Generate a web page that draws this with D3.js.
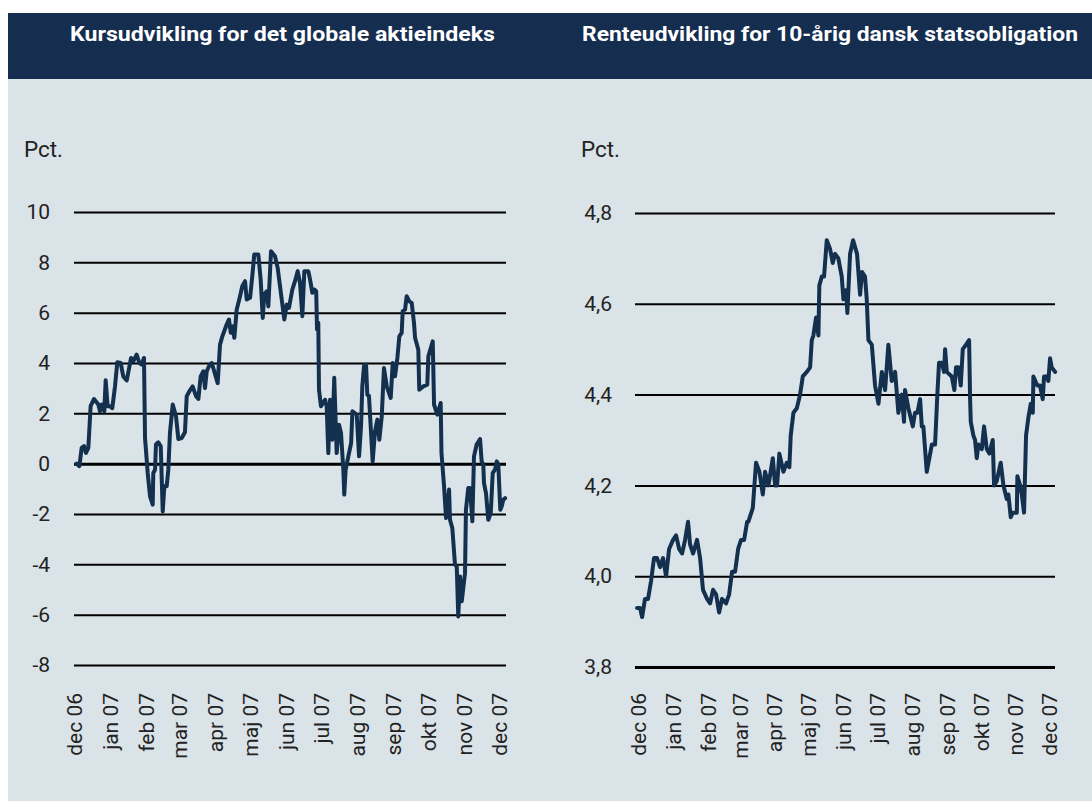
<!DOCTYPE html>
<html><head><meta charset="utf-8">
<script src="https://cdn.jsdelivr.net/npm/d3@7"></script>
<style>body{margin:0;background:#fff}svg{display:block}</style>
</head><body><svg id="c" width="1092" height="801"></svg>
<script>
// ---- data ----
const monthLabels = ["dec 06","jan 07","feb 07","mar 07","apr 07","maj 07","jun 07","jul 07","aug 07","sep 07","okt 07","nov 07","dec 07"];
const monthStarts = ["2006-12-01","2007-01-01","2007-02-01","2007-03-01","2007-04-01","2007-05-01","2007-06-01","2007-07-01","2007-08-01","2007-09-01","2007-10-01","2007-11-01","2007-12-01"];
// days since 2006-12-01
const stockDays = [2.3,4.6,6.6,8.6,10.3,12.3,14.3,17.2,20.9,22.3,23.8,26.0,27.2,28.9,30.9,32.9,35.2,37.2,40.1,42.3,45.3,49.0,50.9,53.8,56.1,58.1,60.1,61.0,63.3,65.3,67.6,68.1,69.6,70.4,72.4,74.5,76.2,77.6,79.6,81.0,82.4,84.8,87.6,89.6,92.5,95.3,96.8,99.0,101.9,104.8,106.8,108.8,111.1,112.5,114.0,116.2,118.3,123.4,125.4,127.4,131.1,133.1,134.6,135.9,137.7,139.7,142.6,144.5,146.9,148.3,151.2,153.1,154.8,158.3,160.3,162.1,163.4,165.5,166.9,169.2,172.6,174.9,178.4,180.6,182.7,184.6,187.5,189.8,192.1,194.1,196.1,197.8,201.2,202.7,204.7,206.4,208.0,208.7,209.8,210.4,212.1,215.6,217.0,218.4,219.9,221.8,223.5,225.6,227.6,229.3,231.3,232.1,233.3,235.6,238.0,239.1,242.8,244.8,246.5,247.6,249.1,250.8,251.9,253.3,256.5,258.5,260.5,262.2,264.3,266.2,268.6,272.0,273.7,275.7,277.7,279.4,281.4,282.3,284.3,285.7,288.0,290.0,292.0,292.9,295.7,296.5,300.0,303.4,304.3,308.1,309.2,312.0,314.9,315.6,317.8,319.5,320.6,322.1,322.9,324.9,327.2,328.7,330.0,331.5,333.0,335.8,336.6,338.6,340.1,342.1,343.5,345.8,348.7,350.1,351.5,352.1,353.8,355.8,357.9,359.6,361.6,363.1,364.4,366.1,367.3,368.7,370.2];
const stockValues = [0.0,-0.1,0.63,0.7,0.43,0.63,2.3,2.57,2.35,2.08,2.35,2.08,3.31,2.28,2.28,2.21,3.07,4.03,4.0,3.47,3.31,4.2,4.07,4.33,4.0,3.94,4.2,1.02,-0.37,-1.3,-1.63,-0.37,-0.24,0.76,0.85,0.69,-1.9,-0.9,-0.9,-0.24,1.22,2.35,1.88,0.98,1.02,1.25,2.68,2.87,3.07,2.68,2.57,3.47,3.67,3.0,3.67,3.9,4.0,3.2,4.73,5.06,5.53,5.73,5.2,5.46,5.0,6.12,6.65,7.05,7.25,6.52,6.59,7.45,8.31,8.31,7.32,5.79,6.72,6.85,6.25,8.44,8.24,7.78,6.52,5.73,6.32,6.19,6.92,7.25,7.65,7.18,5.86,7.65,7.65,7.32,6.79,6.92,6.85,5.33,5.6,2.94,2.28,2.54,2.28,0.42,2.54,0.95,3.41,0.42,1.55,1.22,-0.24,-1.23,-0.24,0.29,0.82,2.08,1.95,0.29,1.48,3.07,3.9,3.94,2.74,2.7,0.09,1.28,1.75,0.95,1.88,3.8,3.07,2.61,4.0,3.47,4.2,5.06,5.2,6.06,6.12,6.65,6.45,6.39,5.59,5.0,4.53,2.94,3.07,3.14,4.27,4.86,2.35,1.95,2.41,0.42,-0.9,-2.16,-1.83,-1.03,-2.23,-2.56,-4.02,-4.08,-6.07,-4.48,-5.47,-4.35,-1.83,-0.97,-0.97,-2.29,0.29,0.76,0.98,0.09,-0.04,-0.77,-1.17,-2.23,-1.96,-0.37,-0.24,0.09,-0.04,-1.83,-1.7,-1.43,-1.37];
const bondDays = [-1.2,1.5,3.3,5.9,8.6,11.3,13.9,16.6,19.3,21.9,24.6,27.3,30.8,33.5,36.2,38.8,41.5,44.1,45.9,48.6,52.1,54.8,57.4,61.0,63.7,66.3,69.0,71.7,74.3,77.9,80.6,83.2,85.9,88.6,91.2,93.9,96.6,97.7,101.6,104.5,107.5,110.5,112.5,115.5,119.4,121.4,123.2,125.2,128.8,131.8,134.1,135.3,137.7,140.7,143.6,146.0,149.6,152.5,154.0,155.4,157.8,159.9,160.7,162.9,164.9,167.3,170.3,172.6,174.7,177.6,180.6,182.1,184.5,185.6,188.0,190.7,194.2,196.9,198.7,201.3,202.8,204.3,207.3,210.2,213.2,216.2,219.1,222.0,225.0,228.0,230.9,233.9,235.9,236.8,239.8,243.7,245.7,247.8,250.2,251.7,253.1,256.1,258.4,260.6,263.5,265.5,267.0,269.4,271.5,272.4,273.9,278.3,280.6,282.1,284.2,286.3,288.1,291.0,293.7,294.6,295.2,297.5,299.0,300.5,302.0,305.0,307.0,309.4,311.7,314.7,315.9,318.3,321.8,324.2,327.2,328.6,330.7,332.5,336.1,336.6,339.0,340.5,342.5,344.3,346.4,348.5,350.3,350.8,354.3,356.7,359.1,360.3,362.7,364.1,365.6,367.1,370.1];
const bondValues = [3.93,3.93,3.91,3.95,3.95,3.99,4.04,4.04,4.02,4.04,4.0,4.06,4.08,4.09,4.06,4.05,4.08,4.12,4.07,4.05,4.08,4.04,3.97,3.95,3.94,3.97,3.96,3.92,3.95,3.94,3.96,4.01,4.01,4.06,4.08,4.08,4.12,4.12,4.15,4.25,4.23,4.18,4.23,4.2,4.26,4.2,4.2,4.27,4.23,4.25,4.24,4.31,4.36,4.37,4.4,4.44,4.45,4.46,4.52,4.53,4.57,4.53,4.64,4.66,4.66,4.74,4.72,4.69,4.71,4.7,4.66,4.61,4.63,4.58,4.71,4.74,4.71,4.62,4.67,4.66,4.61,4.52,4.51,4.42,4.38,4.45,4.41,4.51,4.43,4.45,4.36,4.4,4.34,4.41,4.37,4.33,4.36,4.36,4.39,4.33,4.33,4.23,4.26,4.29,4.29,4.4,4.47,4.47,4.45,4.5,4.45,4.44,4.41,4.46,4.46,4.42,4.5,4.51,4.52,4.39,4.34,4.31,4.3,4.26,4.29,4.28,4.33,4.28,4.27,4.3,4.2,4.21,4.25,4.2,4.17,4.18,4.13,4.14,4.14,4.22,4.2,4.18,4.14,4.31,4.35,4.38,4.36,4.44,4.42,4.42,4.39,4.44,4.44,4.43,4.48,4.46,4.45];
const stockTicks = [10,8,6,4,2,0,-2,-4,-6,-8];
const bondTicks = [4.8,4.6,4.4,4.2,4.0,3.8];
const titles = ["Kursudvikling for det globale aktieindeks","Renteudvikling for 10-årig dansk statsobligation"];
const unitLabel = "Pct.";

// ---- drawing ----
const svg = d3.select("#c");
const NAVY = "#152d4f", BG = "#dae3e7", LINE = "#14304f", TXT = "#222";
const FONT = "Roboto, sans-serif";
const base = new Date(2006, 11, 1);
const toDate = d => new Date(base.getTime() + d * 864e5);
const parse = d3.timeParse("%Y-%m-%d");

svg.append("rect").attr("x",8).attr("y",79).attr("width",1084).attr("height",722).attr("fill",BG);
svg.append("rect").attr("x",8).attr("y",13).attr("width",1084).attr("height",66).attr("fill",NAVY);

function panel(cfg) {
  const x = d3.scaleTime().domain([toDate(cfg.d0), toDate(cfg.d1)]).range([cfg.x0, cfg.x1]);
  const y = d3.scaleLinear().domain(cfg.yDom).range([cfg.yBottom, cfg.yTop]);

  svg.append("text").attr("x", cfg.titleX).attr("y", 41)
    .attr("fill","#fff").attr("font-family","Roboto, sans-serif").attr("font-weight","bold")
    .attr("font-size",20.5).attr("textLength",cfg.titleW).attr("lengthAdjust","spacingAndGlyphs")
    .text(cfg.title);

  svg.append("text").attr("x", cfg.pctX).attr("y", 157).attr("fill",TXT)
    .attr("font-family",FONT).attr("font-size",22).attr("textLength",39).attr("lengthAdjust","spacingAndGlyphs")
    .text(unitLabel);

  const ya = svg.append("g").attr("transform",`translate(${cfg.x0},0)`)
    .call(d3.axisLeft(y).tickValues(cfg.ticks).tickSize(-(cfg.x1 - cfg.x0)).tickPadding(cfg.pad).tickFormat(cfg.fmt));
  ya.select(".domain").remove();
  ya.selectAll(".tick line").attr("stroke","#000")
    .attr("stroke-width", d => d === cfg.bold ? 3 : 2);
  ya.selectAll(".tick text").attr("fill",TXT).attr("font-family",FONT).attr("font-size",21);

  const xa = svg.append("g").attr("transform",`translate(0,${cfg.labelTop})`)
    .call(d3.axisBottom(x).tickValues(monthStarts.map(parse)).tickSize(0)
      .tickFormat((d,i) => monthLabels[i]));
  xa.select(".domain").remove();
  xa.selectAll(".tick text").attr("transform","rotate(-90)").attr("x",0).attr("y",0)
    .attr("dy","0.35em").attr("text-anchor","end")
    .attr("fill",TXT).attr("font-family",FONT).attr("font-size",21);

  const pts = cfg.days.map((d,i) => [toDate(d), cfg.vals[i]]);
  svg.append("path").datum(pts)
    .attr("fill","none").attr("stroke",LINE).attr("stroke-width",4)
    .attr("stroke-linejoin","round").attr("stroke-linecap","round")
    .attr("d", d3.line().x(p => x(p[0])).y(p => y(p[1])));
}

panel({title: titles[0], titleX: 70, titleW: 425, pctX: 24,
  x0: 74, x1: 506, d0: 0, d1: 371, yDom: [-8, 10], yBottom: 665, yTop: 212,
  ticks: stockTicks, bold: 0, pad: 24, fmt: d => String(d), labelTop: 693,
  days: stockDays, vals: stockValues});

panel({title: titles[1], titleX: 582, titleW: 496, pctX: 581,
  x0: 635, x1: 1055, d0: -3, d1: 370, yDom: [3.8, 4.8], yBottom: 667, yTop: 213,
  ticks: bondTicks, bold: 3.8, pad: 23, fmt: d => d3.format(".1f")(d).replace(".", ","), labelTop: 693,
  days: bondDays, vals: bondValues});
</script></body></html>
